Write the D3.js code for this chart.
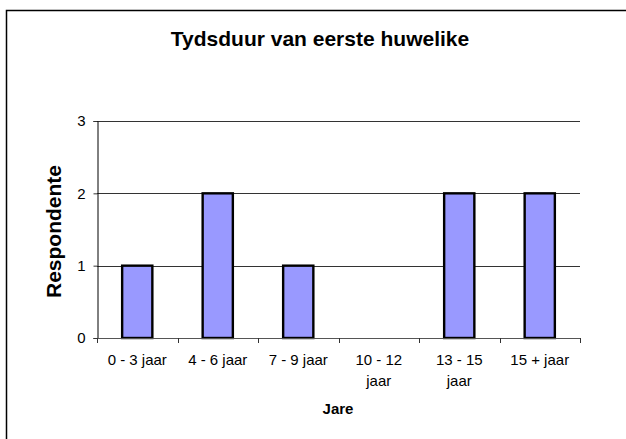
<!DOCTYPE html>
<html>
<head>
<meta charset="utf-8">
<script src="https://cdn.jsdelivr.net/npm/d3@7"></script>
<style>
  body { margin: 0; background: #fff; overflow: hidden; }
  text { font-family: "Liberation Sans", Arial, sans-serif; }
</style>
</head>
<body>
<div id="chart"></div>
<script>
// data
var categories = ["0 - 3 jaar", "4 - 6 jaar", "7 - 9 jaar", "10 - 12 jaar", "13 - 15 jaar", "15 + jaar"];
var respondents = [1, 2, 1, 0, 2, 2];
var yTicks = [0, 1, 2, 3];

var W = 626, H = 439;
var plot = { left: 97, right: 580, top: 121, bottom: 338 };

var svg = d3.select("#chart")
  .append("svg")
  .attr("width", W)
  .attr("height", H)
  .style("display", "block");

// chart area border (runs off the right/bottom edge like the original)
svg.append("rect")
  .attr("x", 6.5).attr("y", 10.5)
  .attr("width", 640).attr("height", 450)
  .attr("fill", "none")
  .attr("stroke", "#000")
  .attr("stroke-width", 1.5);

var x = d3.scaleBand()
  .domain(categories)
  .range([plot.left, plot.right]);

var y = d3.scaleLinear()
  .domain([0, 3])
  .range([plot.bottom, plot.top]);

// gridlines
svg.append("g")
  .selectAll("line")
  .data(yTicks.filter(function (d) { return d > 0; }))
  .enter()
  .append("line")
  .attr("x1", plot.left).attr("x2", plot.right)
  .attr("y1", function (d) { return Math.round(y(d)) + 0.5; })
  .attr("y2", function (d) { return Math.round(y(d)) + 0.5; })
  .attr("stroke", "#333")
  .attr("stroke-width", 1);

// bars
var bw = x.bandwidth();
svg.append("g")
  .selectAll("rect")
  .data(categories.map(function (c, i) { return { cat: c, val: respondents[i] }; })
    .filter(function (d) { return d.val > 0; }))
  .enter()
  .append("rect")
  .attr("x", function (d) { return x(d.cat) + bw * 0.3 + 1; })
  .attr("width", bw * 0.4 - 2)
  .attr("y", function (d) { return y(d.val); })
  .attr("height", function (d) { return y(0) - y(d.val); })
  .attr("fill", "#9999ff")
  .attr("stroke", "#000")
  .attr("stroke-width", 2.4);

// y axis
var yAxis = svg.append("g")
  .attr("transform", "translate(" + (plot.left + 0.5) + ",0)")
  .call(d3.axisLeft(y).tickValues(yTicks).tickFormat(d3.format("d")).tickSize(4).tickPadding(8));
yAxis.select(".domain").attr("stroke", "#000");
yAxis.selectAll(".tick line").attr("stroke", "#333");
yAxis.selectAll("text")
  .attr("font-size", 15)
  .attr("font-family", "Liberation Sans, Arial, sans-serif")
  .attr("fill", "#000");

// x axis line and ticks at category boundaries
var xAxis = svg.append("g");
xAxis.append("line")
  .attr("x1", plot.left).attr("x2", plot.right)
  .attr("y1", plot.bottom + 0.5).attr("y2", plot.bottom + 0.5)
  .attr("stroke", "#555");
var bounds = categories.map(function (c) { return x(c); }).concat([x(categories[categories.length - 1]) + bw]);
xAxis.selectAll(".xt")
  .data(bounds)
  .enter()
  .append("line")
  .attr("x1", function (d) { return Math.round(d) + 0.5; })
  .attr("x2", function (d) { return Math.round(d) + 0.5; })
  .attr("y1", plot.bottom).attr("y2", plot.bottom + 5)
  .attr("stroke", "#333");

// category labels, wrapped like Excel
var labels = xAxis.selectAll(".xl")
  .data(categories)
  .enter()
  .append("text")
  .attr("x", function (d) { return x(d) + bw / 2; })
  .attr("y", 365)
  .attr("text-anchor", "middle")
  .attr("font-size", 15)
  .attr("fill", "#000")
  .text(function (d) { return d; });

labels.each(function (d) {
  var t = d3.select(this);
  if (this.getComputedTextLength() > bw * 0.82) {
    var words = d.split(" ");
    var first = words.slice(0, words.length - 1).join(" ");
    var last = words[words.length - 1];
    t.text(null);
    t.append("tspan").attr("x", x(d) + bw / 2).attr("dy", 0).text(first);
    t.append("tspan").attr("x", x(d) + bw / 2).attr("dy", 21).text(last);
  }
});

// titles
svg.append("text")
  .attr("x", 320).attr("y", 46)
  .attr("text-anchor", "middle")
  .attr("font-size", 21)
  .attr("font-weight", "bold")
  .text("Tydsduur van eerste huwelike");

svg.append("text")
  .attr("transform", "translate(61," + ((plot.top + plot.bottom) / 2 + 2) + ") rotate(-90)")
  .attr("text-anchor", "middle")
  .attr("font-size", 21)
  .attr("font-weight", "bold")
  .text("Respondente");

svg.append("text")
  .attr("x", 338).attr("y", 414)
  .attr("text-anchor", "middle")
  .attr("font-size", 15)
  .attr("font-weight", "bold")
  .text("Jare");
</script>
</body>
</html>
